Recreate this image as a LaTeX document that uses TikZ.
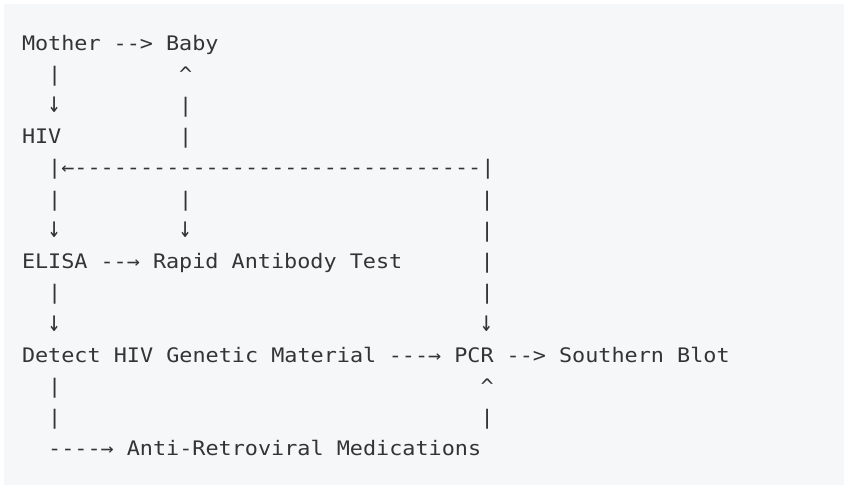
\documentclass[tikz,border=0pt]{standalone}
\usepackage{fontspec}
\setmonofont{DejaVu Sans Mono}[FakeStretch=1.09]
\definecolor{paper}{HTML}{F5F7F9}
\definecolor{ink}{HTML}{333436}
\tikzset{
  txt/.style={anchor=base west, inner sep=0pt, outer sep=0pt, text=ink,
              font=\ttfamily\fontsize{20}{24}\selectfont},
}
% a taller down arrow, kept one column wide
\newcommand\dnarrow{\makebox[0.602em][c]{\raisebox{-0.5pt}{\scalebox{1.0}[1.45]{↓}}}}
\begin{document}
\begin{tikzpicture}
  % page and code-block background
  \fill[white] (0pt,0pt) rectangle (844pt,-488pt);
  \fill[paper] (4pt,-4pt) rectangle (844pt,-485pt);
  \useasboundingbox (0pt,0pt) rectangle (844pt,-488pt);
  % character grid: x = column, y = row (row 0 = first line)
  \begin{scope}[shift={(22pt,-50pt)}, x=13.1pt, y=-31.2pt]
    % row 1
    \node[txt] (mother) at (0,0) {Mother};
    \node[txt] (mbarrow) at (7,0) {-{}->};
    \node[txt] (baby) at (11,0) {Baby};
    % row 2
    \node[txt] (v2a) at (2,1) {|};
    \node[txt] (v2b) at (12,1) {\^{}};
    % row 3
    \node[txt] (v3a) at (2,2) {\dnarrow};
    \node[txt] (v3b) at (12,2) {|};
    % row 4
    \node[txt] (hiv) at (0,3) {HIV};
    \node[txt] (v4b) at (12,3) {|};
    % row 5: feedback line from PCR side back to HIV
    \node[txt] (loop) at (2,4) {|←-{}-{}-{}-{}-{}-{}-{}-{}-{}-{}-{}-{}-{}-{}-{}-{}-{}-{}-{}-{}-{}-{}-{}-{}-{}-{}-{}-{}-{}-{}-|};
    % row 6
    \node[txt] (v6a) at (2,5) {|};
    \node[txt] (v6b) at (12,5) {|};
    \node[txt] (v6c) at (35,5) {|};
    % row 7
    \node[txt] (v7a) at (2,6) {\dnarrow};
    \node[txt] (v7b) at (12,6) {\dnarrow};
    \node[txt] (v7c) at (35,6) {|};
    % row 8
    \node[txt] (elisa) at (0,7) {ELISA};
    \node[txt] (erarrow) at (6,7) {-{}-→};
    \node[txt] (rapid) at (10,7) {Rapid Antibody Test};
    \node[txt] (v8c) at (35,7) {|};
    % row 9
    \node[txt] (v9a) at (2,8) {|};
    \node[txt] (v9c) at (35,8) {|};
    % row 10
    \node[txt] (v10a) at (2,9) {\dnarrow};
    \node[txt] (v10c) at (35,9) {\dnarrow};
    % row 11
    \node[txt] (detect) at (0,10) {Detect HIV Genetic Material};
    \node[txt] (dparrow) at (28,10) {-{}-{}-→};
    \node[txt] (pcr) at (33,10) {PCR};
    \node[txt] (psarrow) at (37,10) {-{}->};
    \node[txt] (southern) at (41,10) {Southern Blot};
    % row 12
    \node[txt] (v12a) at (2,11) {|};
    \node[txt] (v12c) at (35,11) {\^{}};
    % row 13
    \node[txt] (v13a) at (2,12) {|};
    \node[txt] (v13c) at (35,12) {|};
    % row 14
    \node[txt] (darrow) at (2,13) {-{}-{}-{}-→};
    \node[txt] (anti) at (8,13) {Anti-Retroviral Medications};
  \end{scope}
\end{tikzpicture}
\end{document}
